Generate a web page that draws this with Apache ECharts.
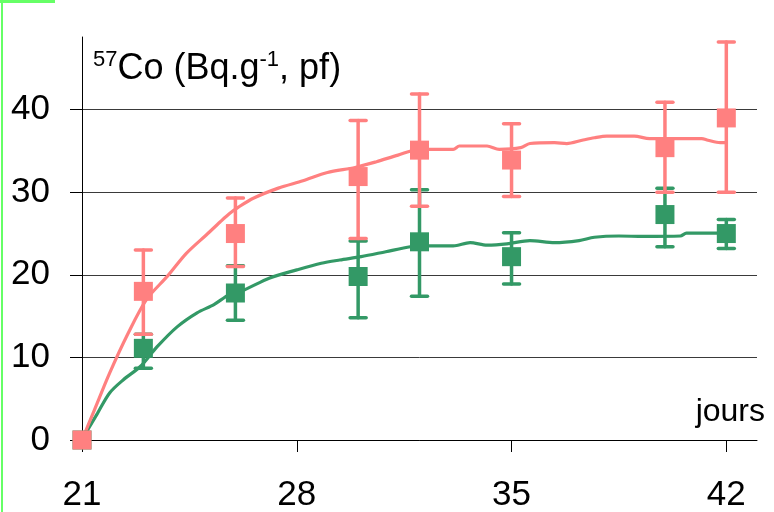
<!DOCTYPE html>
<html>
<head>
<meta charset="utf-8">
<script src="https://cdn.jsdelivr.net/npm/echarts@6/dist/echarts.min.js"></script>
<style>
  html, body { margin: 0; padding: 0; background: #fff; }
  #chart { width: 774px; height: 512px; }
</style>
</head>
<body>
<div id="chart"></div>
<script>
// jours de mesure
var days = [21, 23, 26, 30, 32, 35, 40, 42];

// série rose
var pinkMean = [0, 18.0, 25.0, 31.9, 35.1, 33.9, 35.4, 39.0];
var pinkLow = [null, 12.8, 21.0, 24.4, 28.3, 29.5, 30.0, 30.0];
var pinkHigh = [null, 23.0, 29.3, 38.7, 41.9, 38.3, 40.9, 48.2];

// série verte
var greenMean = [0, 11.1, 17.8, 19.8, 24.0, 22.2, 27.3, 25.0];
var greenLow = [null, 8.7, 14.5, 14.8, 17.4, 18.9, 23.4, 23.2];
var greenHigh = [null, 12.8, 21.1, 24.1, 30.3, 25.1, 30.5, 26.7];

// courbes ajustées [jour, valeur]
var pinkCurve = [
  [21, 0], [21.1, 0.9], [21.4, 3.6], [21.9, 8.1], [22.5, 12.9], [23.1, 17.0],
  [23.8, 19.9], [24.4, 22.6], [25.1, 25.0], [25.5, 26.4], [25.8, 27.4],
  [26.1, 28.2], [26.6, 29.3], [27.4, 30.5], [28.2, 31.4], [29.0, 32.4],
  [29.9, 33.0], [30.6, 33.7], [31.3, 34.5], [32.0, 35.2], [33.1, 35.2],
  [33.3, 35.6], [34.2, 35.6], [34.6, 35.2], [35.3, 35.4], [35.6, 35.9],
  [36.4, 36.0], [36.8, 35.9], [37.3, 36.3], [37.7, 36.6], [38.1, 36.8],
  [39.0, 36.8], [39.5, 36.5], [40.3, 36.5], [41.2, 36.5], [41.4, 36.3],
  [41.8, 36.0], [42.0, 36.0]
];
var greenCurve = [
  [21, 0], [21.15, 1.0], [21.5, 3.2], [21.9, 5.7], [22.35, 7.3], [22.9, 8.9],
  [23.45, 11.3], [24.1, 13.7], [24.75, 15.4], [25.3, 16.4], [25.8, 17.6],
  [26.3, 18.2], [27.1, 19.6], [28.0, 20.6], [28.8, 21.4], [29.4, 21.8],
  [30.1, 22.2], [30.9, 22.8], [31.7, 23.4], [32.0, 23.5], [33.1, 23.5],
  [33.65, 23.9], [34.2, 23.6], [34.85, 23.75], [35.6, 24.15], [36.4, 23.9],
  [37.2, 24.15], [37.7, 24.55], [38.5, 24.7], [39.3, 24.65], [40.5, 24.7],
  [40.7, 25.05], [41.7, 25.05], [42.0, 25.05]
];

var xTicks = [21, 28, 35, 42];
var yTicks = [0, 10, 20, 30, 40];

var PINK = "#ff8080";
var GREEN = "#339966";
var FONT = "Liberation Sans, Arial, sans-serif";

function pts(means) {
  return days.map(function (d, i) { return [d, means[i]]; });
}
function errs(low, high) {
  var out = [];
  for (var i = 0; i < days.length; i++) {
    if (low[i] != null) out.push([days[i], low[i], high[i]]);
  }
  return out;
}
function errorBars(color) {
  return function (params, api) {
    var lo = api.coord([api.value(0), api.value(1)]);
    var hi = api.coord([api.value(0), api.value(2)]);
    var w = 8;
    var st = { stroke: color, lineWidth: 3.5, lineCap: "round" };
    return {
      type: "group",
      children: [
        { type: "line", shape: { x1: lo[0], y1: lo[1], x2: hi[0], y2: hi[1] }, style: st },
        { type: "line", shape: { x1: lo[0] - w, y1: lo[1], x2: lo[0] + w, y2: lo[1] }, style: st },
        { type: "line", shape: { x1: hi[0] - w, y1: hi[1], x2: hi[0] + w, y2: hi[1] }, style: st },
      ],
    };
  };
}

var myChart = echarts.init(document.getElementById("chart"), null, { renderer: "canvas" });

var option = {
  animation: false,
  backgroundColor: "#fff",
  textStyle: { fontFamily: FONT },
  title: {
    left: 88,
    top: 44,
    text: "{s|57}{n|Co (Bq.g}{s|-1}{n|, pf)}",
    textStyle: {
      fontWeight: "normal",
      rich: {
        n: { fontSize: 36, fontFamily: FONT, fontWeight: "normal", color: "#000", lineHeight: 40 },
        s: { fontSize: 22, fontFamily: FONT, fontWeight: "normal", color: "#000", lineHeight: 22, verticalAlign: "top" },
      },
    },
  },
  graphic: [
    { type: "rect", left: 1, top: 0, shape: { width: 2, height: 512 }, style: { fill: "#66ff66" } },
    { type: "rect", left: 0, top: 0, shape: { width: 55, height: 3 }, style: { fill: "#66ff66" } },
    {
      type: "text", right: 9, top: 396,
      style: { text: "jours", font: "32px " + FONT, fill: "#000" },
    },
  ],
  grid: { left: 82, right: 17, top: 37, bottom: 72, containLabel: false, outerBoundsMode: "none" },
  xAxis: {
    type: "value",
    min: 21,
    max: 43,
    axisLine: { lineStyle: { color: "#000", width: 1 } },
    axisTick: { customValues: xTicks, length: 12, lineStyle: { color: "#000" } },
    axisLabel: { customValues: xTicks, fontSize: 35, color: "#000", margin: 38, fontFamily: FONT },
    splitLine: { show: false },
  },
  yAxis: {
    type: "value",
    min: 0,
    max: 48.8,
    axisLine: { show: true, lineStyle: { color: "#000", width: 1 } },
    axisTick: { show: true, customValues: yTicks, length: 12, lineStyle: { color: "#000" } },
    axisLabel: { customValues: yTicks, fontSize: 35, color: "#000", margin: 32, fontFamily: FONT },
    splitLine: { show: true, lineStyle: { color: "#3a3a3a", width: 1 } },
  },
  series: [
    {
      name: "courbe verte", type: "line", data: greenCurve, showSymbol: false, smooth: 0.3,
      lineStyle: { color: GREEN, width: 3.2 }, z: 2, silent: true,
    },
    {
      name: "courbe rose", type: "line", data: pinkCurve, showSymbol: false, smooth: 0.3,
      lineStyle: { color: PINK, width: 3.2 }, z: 2, silent: true,
    },
    {
      name: "erreur verte", type: "custom", data: errs(greenLow, greenHigh),
      renderItem: errorBars(GREEN), z: 3,
    },
    {
      name: "verte", type: "scatter", data: pts(greenMean), symbol: "rect", symbolSize: 19,
      itemStyle: { color: GREEN, opacity: 1 }, z: 4,
    },
    {
      name: "erreur rose", type: "custom", data: errs(pinkLow, pinkHigh),
      renderItem: errorBars(PINK), z: 5,
    },
    {
      name: "rose", type: "scatter", data: pts(pinkMean), symbol: "rect", symbolSize: 19,
      itemStyle: { color: PINK, opacity: 1 }, z: 6,
    },
  ],
};

myChart.setOption(option);
window.addEventListener("resize", myChart.resize);
</script>
</body>
</html>
